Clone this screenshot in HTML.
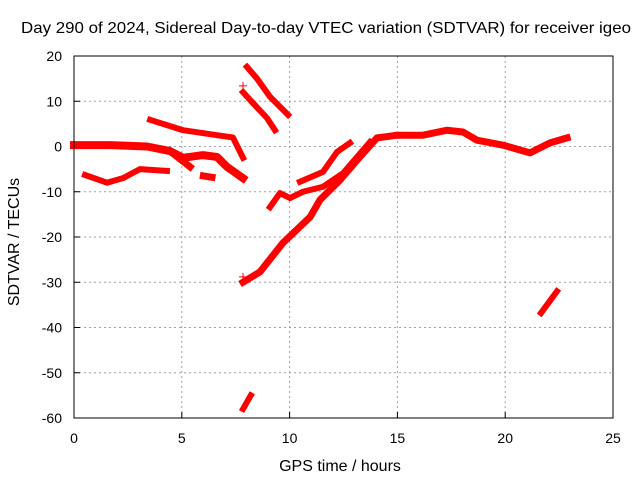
<!DOCTYPE html>
<html><head><meta charset="utf-8"><style>
body{margin:0;background:#fff}
svg{font-family:"Liberation Sans",sans-serif;font-size:14px}
</style></head><body>
<svg id="chart" width="640" height="480" viewBox="0 0 640 480">
<rect width="640" height="480" fill="#fff"/>
<text x="326" y="33" text-anchor="middle" font-size="16" textLength="610" lengthAdjust="spacingAndGlyphs">Day 290 of 2024, Sidereal Day-to-day VTEC variation (SDTVAR) for receiver igeo</text>
<text x="340" y="471" text-anchor="middle" font-size="16">GPS time / hours</text>
<text transform="translate(19,242) rotate(-90)" text-anchor="middle" font-size="16">SDTVAR / TECUs</text>
<g id="grid"></g><g id="ticks"></g><g id="series"></g>
<rect x="74" y="56" width="539" height="362" fill="none" stroke="#000" stroke-width="1"/>
</svg>
<script>
const xTicks=[0,5,10,15,20,25];
const yTicks=[20,10,0,-10,-20,-30,-40,-50,-60];
const band1=[[0,0.3],[1.67,0.3],[3.39,0],[4.45,-1],[5.06,-2.5],[5.98,-1.9],[6.63,-2.3],[7.10,-4.5],[7.84,-7]];
const band1b=[[4.45,-1],[5.38,-4.5]];
const blob=[[6.0,-6.5],[6.4,-6.8]];
const band2=[[3.53,5.9],[5.06,3.6],[6.63,2.5],[7.37,2],[7.84,-2.5]];
const band3=[[0.51,-6.3],[1.53,-8],[2.27,-7],[3.06,-5],[4.31,-5.4]];
const hi1=[[8.02,17.6],[8.49,15],[9.09,11],[9.93,7]];
const hi2=[[7.84,12],[8.30,9.6],[8.95,6.3],[9.32,3.6]];
const midC=[[9.09,-13.4],[9.55,-10.3],[10.02,-11.4],[10.62,-10],[11.55,-8.9],[12.48,-5.9],[13.13,-2.3],[13.73,1]];
const segE=[[10.48,-7.8],[11.55,-5.6],[12.20,-1.2],[12.80,0.8]];
const segD=[[7.84,-30],[8.63,-27.7],[9.69,-21.3],[10.95,-15.6],[11.41,-11.8],[12.34,-7.4],[13.13,-3],[14.05,1.9],[14.98,2.5],[16.19,2.5],[17.30,3.6],[18.04,3.2],[18.69,1.4],[19.90,0.3],[21.15,-1.4],[22.08,0.8],[22.87,1.9]];
const bot1=[[7.84,-58],[8.2,-55]];
const bot2=[[21.66,-36.8],[22.40,-32]];
const singles=[[7.84,13.4],[7.84,-28.8]];
const seriesList=[[band1,7],[band1b,6],[blob,6],[band2,5],[band3,5],[hi1,5],[hi2,5],[midC,5],[segE,5],[segD,6],[bot1,5],[bot2,5]];

const NS="http://www.w3.org/2000/svg";
const X=v=>74+v*539/25;
const Y=v=>56+(20-v)*362/80;
const grid=document.getElementById('grid'),ticks=document.getElementById('ticks'),ser=document.getElementById('series');
function mk(t,a,p){const e=document.createElementNS(NS,t);for(const k in a)e.setAttribute(k,a[k]);p.appendChild(e);return e;}
xTicks.forEach(v=>{
  if(v>0&&v<25){const g=mk('line',{x1:X(v),x2:X(v),y1:56,y2:418,stroke:'#a0a0a0','stroke-dasharray':'2,3'},grid);
  
  }
  const t=mk('line',{x1:X(v),x2:X(v),y1:418,y2:412,stroke:'#000'},ticks);
  
  
  const l=mk('text',{x:X(v),y:443,'text-anchor':'middle'},ticks);l.textContent=v;
  
  
});
yTicks.forEach(v=>{
  if(v<20&&v>-60){const g=mk('line',{x1:74,x2:613,y1:Y(v),y2:Y(v),stroke:'#a0a0a0','stroke-dasharray':'2,3'},grid);
  
  }
  const t=mk('line',{x1:74,x2:80,y1:Y(v),y2:Y(v),stroke:'#000'},ticks);
  
  
  const l=mk('text',{x:62,y:Y(v)+5,'text-anchor':'end'},ticks);l.textContent=v;
  
  
});
seriesList.forEach(([pts,w])=>{
  const p=mk('polyline',{points:pts.map(d=>X(d[0])+','+Y(d[1])).join(' '),fill:'none',stroke:'#f00','stroke-width':w+1,'stroke-linejoin':'round','stroke-linecap':'square'},ser);
  
  
});
singles.forEach(d=>{
  const p=mk('path',{d:`M${X(d[0])-4},${Y(d[1])}h8M${X(d[0])},${Y(d[1])-4}v8`,stroke:'#f00','stroke-width':1},ser);
  
  
});
</script>
</body></html>
